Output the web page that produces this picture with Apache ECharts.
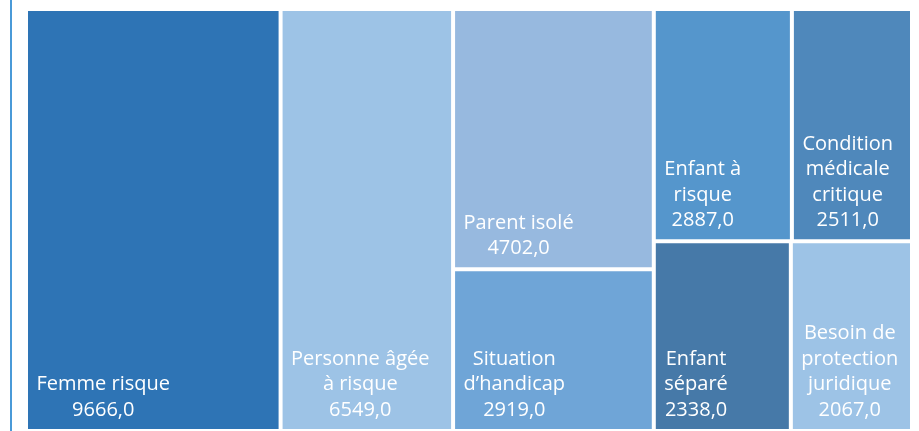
<!DOCTYPE html>
<html>
<head>
<meta charset="utf-8">
<script src="https://cdn.jsdelivr.net/npm/echarts@6/dist/echarts.min.js"></script>
<style>
  html, body { margin: 0; padding: 0; background: #fff; }
  #chart { width: 919px; height: 431px; }
</style>
</head>
<body>
<div id="chart"></div>
<script>
// categories, values and label line breaks as seen in the picture
const names = ['Femme risque', 'Personne âgée à risque', 'Parent isolé', 'Situation d\u2019handicap',
  'Enfant à risque', 'Condition médicale critique', 'Enfant séparé', 'Besoin de protection juridique']
const labelLines = [
  ['Femme risque'],
  ['Personne âgée', 'à risque'],
  ['Parent isolé'],
  ['Situation', 'd\u2019handicap'],
  ['Enfant à', 'risque'],
  ['Condition', 'médicale', 'critique'],
  ['Enfant', 'séparé'],
  ['Besoin de', 'protection', 'juridique'],
]
const values = [9666, 6549, 4702, 2919, 2887, 2511, 2338, 2067]
const colors = ['#2e74b5', '#9dc3e6', '#97b9df', '#6fa5d7', '#5596cc', '#4f88bb', '#4679a8', '#9dc3e6']

const FONT = 'Open Sans'
const FONT_SIZE = 20
const LINE_H = 25.5
const BORDER = 2

const fmt = (v) => v.toFixed(1).replace('.', ',')
const textLines = (i) => labelLines[i].concat([fmt(values[i])])

// label padding per tile (filled in after the first layout pass)
const pads = {}

const leaf = (i) => ({
  name: names[i],
  value: values[i],
  idx: i,
  itemStyle: { color: colors[i] },
  label: pads[i] ? { padding: pads[i] } : {},
})

// grouping so the tiles fall in the same columns / rows as the reference
const group = (children) => ({
  name: '',
  children,
  itemStyle: { borderWidth: 0, gapWidth: 0 },
})

const buildData = () => [
  leaf(0),
  leaf(1),
  group([leaf(2), leaf(3)]),
  group([group([leaf(4), leaf(5)]), group([leaf(6), leaf(7)])]),
]

const chart = echarts.init(document.getElementById('chart'))

const option = {
  animation: false,
  graphic: [
    {
      type: 'rect',
      shape: { x: 10, y: 0, width: 2, height: 431 },
      style: { fill: '#4a9ad8' },
    },
  ],
  series: [
    {
      type: 'treemap',
      left: 26,
      top: 9,
      right: 7,
      bottom: 0,
      sort: false,
      squareRatio: 0.001,
      roam: false,
      nodeClick: false,
      breadcrumb: { show: false },
      levels: [{ itemStyle: { borderWidth: 0, gapWidth: 0 } }],
      itemStyle: { borderColor: '#fff', borderWidth: BORDER, gapWidth: 0 },
      label: {
        show: true,
        position: 'insideTopLeft',
        color: '#fff',
        fontFamily: FONT,
        fontSize: FONT_SIZE,
        lineHeight: LINE_H,
        formatter: (p) => textLines(p.data.idx).map((l) => '{c|' + l + '}').join('\n'),
        rich: {
          c: { align: 'center', color: '#fff', fontFamily: FONT, fontSize: FONT_SIZE, lineHeight: LINE_H },
        },
      },
      upperLabel: { show: false },
      data: buildData(),
    },
  ],
}

chart.setOption(option)

// second pass: push each label block to the bottom-left corner of its tile,
// lines centred on each other like in the reference
const ctx = document.createElement('canvas').getContext('2d')
ctx.font = FONT_SIZE + 'px "' + FONT + '"'
const tree = chart.getModel().getSeriesByIndex(0).getData().tree
tree.root.eachNode((node) => {
  if (node.children && node.children.length) return
  const item = node.getModel().option
  if (item == null || item.idx == null) return
  const i = item.idx
  const lay = node.getLayout()
  const w = lay.width - 2 * BORDER
  const h = lay.height - 2 * BORDER
  const lines = textLines(i)
  const maxW = Math.max(...lines.map((l) => ctx.measureText(l).width)) + 1
  const padLeft = 8
  const padBottom = 6
  const padTop = Math.max(0, h - lines.length * LINE_H - padBottom)
  const padRight = Math.max(0, w - padLeft - maxW)
  pads[i] = [padTop, padRight, 0, padLeft]
})

option.series[0].data = buildData()
chart.setOption(option)
</script>
</body>
</html>
